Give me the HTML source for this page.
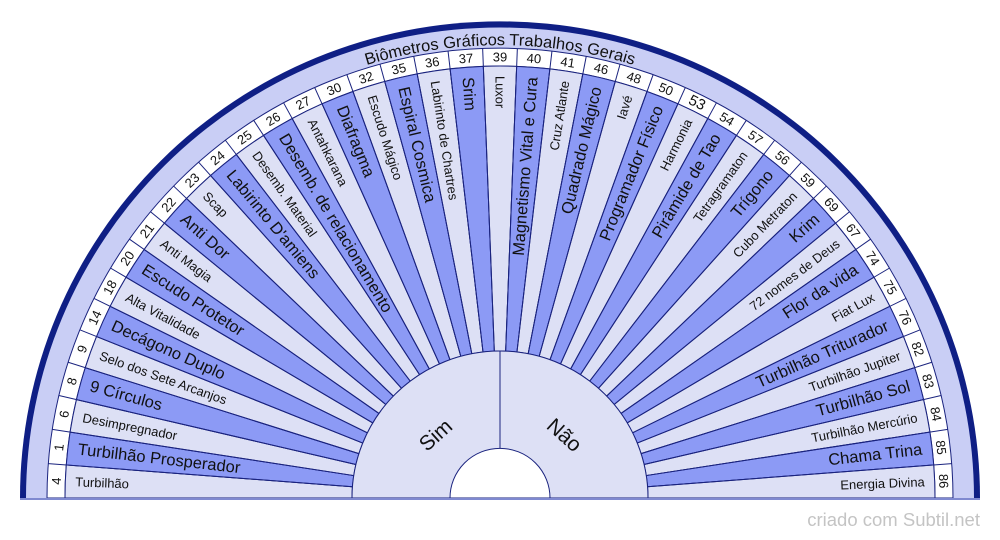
<!DOCTYPE html>
<html><head><meta charset="utf-8"><style>
html,body{margin:0;padding:0;background:#fff;}
svg{display:block;}
text{font-family:"Liberation Sans",Arial,sans-serif;fill:#111;}
.b{font-size:16.5px;}
.s{font-size:13px;}
.n{font-size:13px;text-anchor:middle;dominant-baseline:central;}
</style></head><body>
<svg width="1000" height="540" viewBox="0 0 1000 540" xmlns="http://www.w3.org/2000/svg">
<defs>
<path id="w" d="M352.11,503.67 L65.32,514.66 A435,435 0 0 1 65.32,481.34 L352.11,492.33 A148,148 0 0 0 352.11,503.67 Z" stroke="#1a237e" stroke-width="1"/>
<line id="ln" x1="47" y1="498" x2="352" y2="498" stroke="#1a237e" stroke-width="1"/>
<path id="arc" d="M44,498 A456,456 0 0 1 956,498"/>
</defs>
<g transform="translate(0,498) scale(1,0.993) translate(0,-498)">
<path d="M20,498 A480,480 0 0 1 980,498 Z" fill="#0f1f85"/>
<path d="M26,498 A474,474 0 0 1 974,498 Z" fill="#c9cef5"/>
<path d="M47,498 A453,453 0 0 1 953,498 Z" fill="#fff" stroke="#1a237e" stroke-width="1"/>
<path d="M65,498 A435,435 0 0 1 935,498 Z" fill="#dde0f5" stroke="#1a237e" stroke-width="1"/>
<text font-size="16.5" text-anchor="middle"><textPath href="#arc" startOffset="50%">Biômetros Gráficos Trabalhos Gerais</textPath></text>

<g>
<g transform="rotate(2.195 500 498)"><use href="#w" fill="#dde0f5"/><text class="s" x="75" y="498" dominant-baseline="central">Turbilhão</text><text class="n" x="56" y="498" transform="rotate(-90 56 498)">4</text></g>
<g transform="rotate(6.585 500 498)"><use href="#w" fill="#8c9af5"/><text class="b" x="75" y="498" dominant-baseline="central">Turbilhão Prosperador</text><text class="n" x="56" y="498" transform="rotate(-90 56 498)">1</text></g>
<g transform="rotate(10.976 500 498)"><use href="#w" fill="#dde0f5"/><text class="s" x="75" y="498" dominant-baseline="central">Desimpregnador</text><text class="n" x="56" y="498" transform="rotate(-90 56 498)">6</text></g>
<g transform="rotate(15.366 500 498)"><use href="#w" fill="#8c9af5"/><text class="b" x="75" y="498" dominant-baseline="central">9 Círculos</text><text class="n" x="56" y="498" transform="rotate(-90 56 498)">8</text></g>
<g transform="rotate(19.756 500 498)"><use href="#w" fill="#dde0f5"/><text class="s" x="75" y="498" dominant-baseline="central">Selo dos Sete Arcanjos</text><text class="n" x="56" y="498" transform="rotate(-90 56 498)">9</text></g>
<g transform="rotate(24.146 500 498)"><use href="#w" fill="#8c9af5"/><text class="b" x="75" y="498" dominant-baseline="central">Decágono Duplo</text><text class="n" x="56" y="498" transform="rotate(-90 56 498)">14</text></g>
<g transform="rotate(28.537 500 498)"><use href="#w" fill="#dde0f5"/><text class="s" x="75" y="498" dominant-baseline="central">Alta Vitalidade</text><text class="n" x="56" y="498" transform="rotate(-90 56 498)">18</text></g>
<g transform="rotate(32.927 500 498)"><use href="#w" fill="#8c9af5"/><text class="b" x="75" y="498" dominant-baseline="central">Escudo Protetor</text><text class="n" x="56" y="498" transform="rotate(-90 56 498)">20</text></g>
<g transform="rotate(37.317 500 498)"><use href="#w" fill="#dde0f5"/><text class="s" x="75" y="498" dominant-baseline="central">Anti Magia</text><text class="n" x="56" y="498" transform="rotate(-90 56 498)">21</text></g>
<g transform="rotate(41.707 500 498)"><use href="#w" fill="#8c9af5"/><text class="b" x="75" y="498" dominant-baseline="central">Anti Dor</text><text class="n" x="56" y="498" transform="rotate(-90 56 498)">22</text></g>
<g transform="rotate(46.098 500 498)"><use href="#w" fill="#dde0f5"/><text class="s" x="75" y="498" dominant-baseline="central">Scap</text><text class="n" x="56" y="498" transform="rotate(-90 56 498)">23</text></g>
<g transform="rotate(50.488 500 498)"><use href="#w" fill="#8c9af5"/><text class="b" x="75" y="498" dominant-baseline="central">Labirinto D'amiens</text><text class="n" x="56" y="498" transform="rotate(-90 56 498)">24</text></g>
<g transform="rotate(54.878 500 498)"><use href="#w" fill="#dde0f5"/><text class="s" x="75" y="498" dominant-baseline="central">Desemb. Material</text><text class="n" x="56" y="498" transform="rotate(-90 56 498)">25</text></g>
<g transform="rotate(59.268 500 498)"><use href="#w" fill="#8c9af5"/><text class="b" x="75" y="498" dominant-baseline="central">Desemb. de relacionamento</text><text class="n" x="56" y="498" transform="rotate(-90 56 498)">26</text></g>
<g transform="rotate(63.659 500 498)"><use href="#w" fill="#dde0f5"/><text class="s" x="75" y="498" dominant-baseline="central">Antahkarana</text><text class="n" x="56" y="498" transform="rotate(-90 56 498)">27</text></g>
<g transform="rotate(68.049 500 498)"><use href="#w" fill="#8c9af5"/><text class="b" x="75" y="498" dominant-baseline="central">Diafragma</text><text class="n" x="56" y="498" transform="rotate(-90 56 498)">30</text></g>
<g transform="rotate(72.439 500 498)"><use href="#w" fill="#dde0f5"/><text class="s" x="75" y="498" dominant-baseline="central">Escudo Mágico</text><text class="n" x="56" y="498" transform="rotate(-90 56 498)">32</text></g>
<g transform="rotate(76.829 500 498)"><use href="#w" fill="#8c9af5"/><text class="b" x="75" y="498" dominant-baseline="central">Espiral Cosmica</text><text class="n" x="56" y="498" transform="rotate(-90 56 498)">35</text></g>
<g transform="rotate(81.220 500 498)"><use href="#w" fill="#dde0f5"/><text class="s" x="75" y="498" dominant-baseline="central">Labirinto de Chartres</text><text class="n" x="56" y="498" transform="rotate(-90 56 498)">36</text></g>
<g transform="rotate(85.610 500 498)"><use href="#w" fill="#8c9af5"/><text class="b" x="75" y="498" dominant-baseline="central">Srim</text><text class="n" x="56" y="498" transform="rotate(-90 56 498)">37</text></g>
<g transform="rotate(90 500 498)"><use href="#w" fill="#dde0f5"/><text class="s" x="75" y="498" dominant-baseline="central">Luxor</text><text class="n" x="56" y="498" transform="rotate(-90 56 498)">39</text></g>
<g transform="rotate(94.390 500 498)"><use href="#w" fill="#8c9af5"/><text class="b" x="75" y="498" dominant-baseline="central" text-anchor="end" transform="rotate(180 75 498)">Magnetismo Vital e Cura</text><text class="n" x="56" y="498" transform="rotate(-90 56 498)">40</text></g>
<g transform="rotate(98.780 500 498)"><use href="#w" fill="#dde0f5"/><text class="s" x="75" y="498" dominant-baseline="central" text-anchor="end" transform="rotate(180 75 498)">Cruz Atlante</text><text class="n" x="56" y="498" transform="rotate(-90 56 498)">41</text></g>
<g transform="rotate(103.171 500 498)"><use href="#w" fill="#8c9af5"/><text class="b" x="75" y="498" dominant-baseline="central" text-anchor="end" transform="rotate(180 75 498)">Quadrado Mágico</text><text class="n" x="56" y="498" transform="rotate(-90 56 498)">46</text></g>
<g transform="rotate(107.561 500 498)"><use href="#w" fill="#dde0f5"/><text class="s" x="75" y="498" dominant-baseline="central" text-anchor="end" transform="rotate(180 75 498)">Iavé</text><text class="n" x="56" y="498" transform="rotate(-90 56 498)">48</text></g>
<g transform="rotate(111.951 500 498)"><use href="#w" fill="#8c9af5"/><text class="b" x="75" y="498" dominant-baseline="central" text-anchor="end" transform="rotate(180 75 498)">Programador Físico</text><text class="n" x="56" y="498" transform="rotate(-90 56 498)">50</text></g>
<g transform="rotate(116.341 500 498)"><use href="#w" fill="#dde0f5"/><text class="s" x="75" y="498" dominant-baseline="central" text-anchor="end" transform="rotate(180 75 498)">Harmonia</text><text class="n" x="56" y="498" transform="rotate(-90 56 498)" style="font-size:15px">53</text></g>
<g transform="rotate(120.732 500 498)"><use href="#w" fill="#8c9af5"/><text class="b" x="75" y="498" dominant-baseline="central" text-anchor="end" transform="rotate(180 75 498)">Pirâmide de Tao</text><text class="n" x="56" y="498" transform="rotate(-90 56 498)">54</text></g>
<g transform="rotate(125.122 500 498)"><use href="#w" fill="#dde0f5"/><text class="s" x="75" y="498" dominant-baseline="central" text-anchor="end" transform="rotate(180 75 498)">Tetragramaton</text><text class="n" x="56" y="498" transform="rotate(-90 56 498)">57</text></g>
<g transform="rotate(129.512 500 498)"><use href="#w" fill="#8c9af5"/><text class="b" x="75" y="498" dominant-baseline="central" text-anchor="end" transform="rotate(180 75 498)">Trígono</text><text class="n" x="56" y="498" transform="rotate(-90 56 498)">56</text></g>
<g transform="rotate(133.902 500 498)"><use href="#w" fill="#dde0f5"/><text class="s" x="75" y="498" dominant-baseline="central" text-anchor="end" transform="rotate(180 75 498)">Cubo Metraton</text><text class="n" x="56" y="498" transform="rotate(-90 56 498)">59</text></g>
<g transform="rotate(138.293 500 498)"><use href="#w" fill="#8c9af5"/><text class="b" x="75" y="498" dominant-baseline="central" text-anchor="end" transform="rotate(180 75 498)">Krim</text><text class="n" x="56" y="498" transform="rotate(-90 56 498)">69</text></g>
<g transform="rotate(142.683 500 498)"><use href="#w" fill="#dde0f5"/><text class="s" x="75" y="498" dominant-baseline="central" text-anchor="end" transform="rotate(180 75 498)">72 nomes de Deus</text><text class="n" x="56" y="498" transform="rotate(-90 56 498)">67</text></g>
<g transform="rotate(147.073 500 498)"><use href="#w" fill="#8c9af5"/><text class="b" x="75" y="498" dominant-baseline="central" text-anchor="end" transform="rotate(180 75 498)">Flor da vida</text><text class="n" x="56" y="498" transform="rotate(-90 56 498)">74</text></g>
<g transform="rotate(151.463 500 498)"><use href="#w" fill="#dde0f5"/><text class="s" x="75" y="498" dominant-baseline="central" text-anchor="end" transform="rotate(180 75 498)">Fiat Lux</text><text class="n" x="56" y="498" transform="rotate(-90 56 498)">75</text></g>
<g transform="rotate(155.854 500 498)"><use href="#w" fill="#8c9af5"/><text class="b" x="75" y="498" dominant-baseline="central" text-anchor="end" transform="rotate(180 75 498)">Turbilhão Triturador</text><text class="n" x="56" y="498" transform="rotate(-90 56 498)">76</text></g>
<g transform="rotate(160.244 500 498)"><use href="#w" fill="#dde0f5"/><text class="s" x="75" y="498" dominant-baseline="central" text-anchor="end" transform="rotate(180 75 498)">Turbilhão Jupiter</text><text class="n" x="56" y="498" transform="rotate(-90 56 498)">82</text></g>
<g transform="rotate(164.634 500 498)"><use href="#w" fill="#8c9af5"/><text class="b" x="75" y="498" dominant-baseline="central" text-anchor="end" transform="rotate(180 75 498)">Turbilhão Sol</text><text class="n" x="56" y="498" transform="rotate(-90 56 498)">83</text></g>
<g transform="rotate(169.024 500 498)"><use href="#w" fill="#dde0f5"/><text class="s" x="75" y="498" dominant-baseline="central" text-anchor="end" transform="rotate(180 75 498)">Turbilhão Mercúrio</text><text class="n" x="56" y="498" transform="rotate(-90 56 498)">84</text></g>
<g transform="rotate(173.415 500 498)"><use href="#w" fill="#8c9af5"/><text class="b" x="75" y="498" dominant-baseline="central" text-anchor="end" transform="rotate(180 75 498)">Chama Trina</text><text class="n" x="56" y="498" transform="rotate(-90 56 498)">85</text></g>
<g transform="rotate(177.805 500 498)"><use href="#w" fill="#dde0f5"/><text class="s" x="75" y="498" dominant-baseline="central" text-anchor="end" transform="rotate(180 75 498)">Energia Divina</text><text class="n" x="56" y="498" transform="rotate(-90 56 498)">86</text></g>
</g>
<g>
<use href="#ln" transform="rotate(4.390 500 498)"/><use href="#ln" transform="rotate(8.780 500 498)"/><use href="#ln" transform="rotate(13.171 500 498)"/><use href="#ln" transform="rotate(17.561 500 498)"/><use href="#ln" transform="rotate(21.951 500 498)"/><use href="#ln" transform="rotate(26.341 500 498)"/><use href="#ln" transform="rotate(30.732 500 498)"/><use href="#ln" transform="rotate(35.122 500 498)"/><use href="#ln" transform="rotate(39.512 500 498)"/><use href="#ln" transform="rotate(43.902 500 498)"/><use href="#ln" transform="rotate(48.293 500 498)"/><use href="#ln" transform="rotate(52.683 500 498)"/><use href="#ln" transform="rotate(57.073 500 498)"/><use href="#ln" transform="rotate(61.463 500 498)"/><use href="#ln" transform="rotate(65.854 500 498)"/><use href="#ln" transform="rotate(70.244 500 498)"/><use href="#ln" transform="rotate(74.634 500 498)"/><use href="#ln" transform="rotate(79.024 500 498)"/><use href="#ln" transform="rotate(83.415 500 498)"/><use href="#ln" transform="rotate(87.805 500 498)"/><use href="#ln" transform="rotate(92.195 500 498)"/><use href="#ln" transform="rotate(96.585 500 498)"/><use href="#ln" transform="rotate(100.976 500 498)"/><use href="#ln" transform="rotate(105.366 500 498)"/><use href="#ln" transform="rotate(109.756 500 498)"/><use href="#ln" transform="rotate(114.146 500 498)"/><use href="#ln" transform="rotate(118.537 500 498)"/><use href="#ln" transform="rotate(122.927 500 498)"/><use href="#ln" transform="rotate(127.317 500 498)"/><use href="#ln" transform="rotate(131.707 500 498)"/><use href="#ln" transform="rotate(136.098 500 498)"/><use href="#ln" transform="rotate(140.488 500 498)"/><use href="#ln" transform="rotate(144.878 500 498)"/><use href="#ln" transform="rotate(149.268 500 498)"/><use href="#ln" transform="rotate(153.659 500 498)"/><use href="#ln" transform="rotate(158.049 500 498)"/><use href="#ln" transform="rotate(162.439 500 498)"/><use href="#ln" transform="rotate(166.829 500 498)"/><use href="#ln" transform="rotate(171.220 500 498)"/><use href="#ln" transform="rotate(175.610 500 498)"/>
</g>
<path d="M352,498 A148,148 0 0 1 648,498 Z" fill="#dde0f5" stroke="#1a237e" stroke-width="1"/>
<line x1="500" y1="350" x2="500" y2="448" stroke="#1a237e" stroke-width="1"/>
<path d="M450,498 A50,50 0 0 1 550,498 Z" fill="#fff" stroke="#1a237e" stroke-width="1"/>
<text x="436" y="435" font-size="21" text-anchor="middle" dominant-baseline="central" transform="rotate(-42 436 435)">Sim</text>
<text x="564" y="435" font-size="21" text-anchor="middle" dominant-baseline="central" transform="rotate(42 564 435)">Não</text>
</g>
<line x1="20" y1="499" x2="980" y2="499" stroke="#7f89d0" stroke-width="2"/>
<text x="980" y="526" font-size="18.5" text-anchor="end" style="fill:#c4c4c4">criado com Subtil.net</text>
</svg>
</body></html>
